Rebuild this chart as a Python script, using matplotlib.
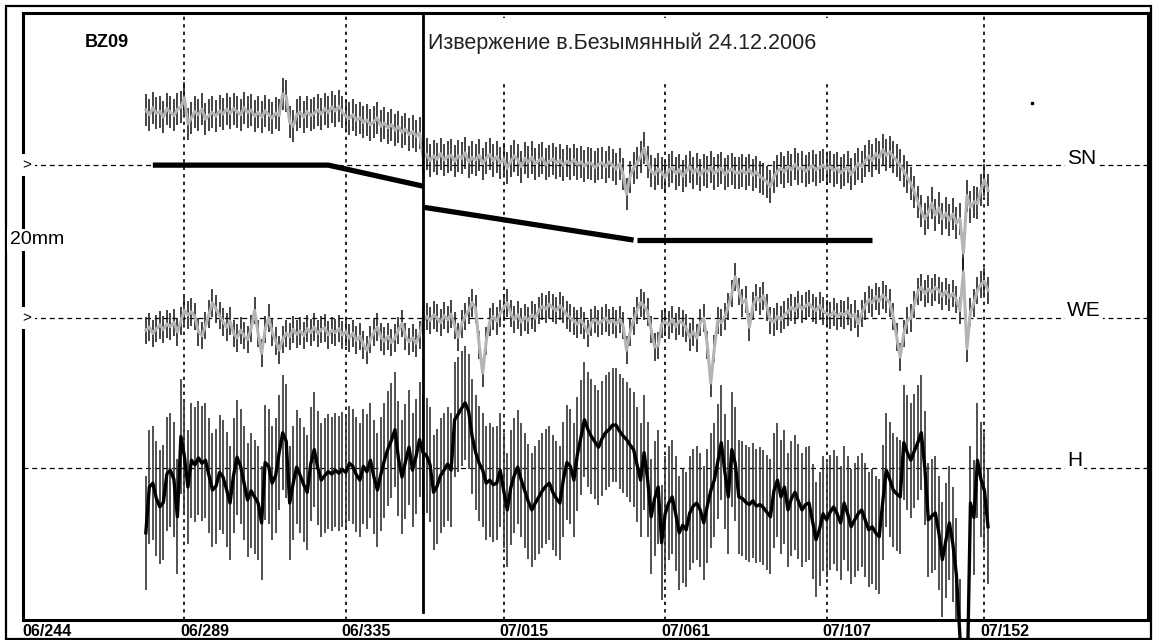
import numpy as np
import matplotlib
matplotlib.use("Agg")
import matplotlib.pyplot as plt
from matplotlib.patches import Rectangle
import matplotlib.transforms as mtransforms

plt.rcParams['font.family'] = ['Liberation Sans', 'DejaVu Sans']

# ---- data (mm, daily solutions of station BZ09) ----
first_day = 278                      # day number counted from 2006-01-01
station = "BZ09"
title = "Извержение в.Безымянный 24.12.2006"
eruption_day = 357

tick_days = [244, 289, 335, 380, 426, 472, 517]
tick_labels = ["06/244", "06/289", "06/335", "07/015", "07/061", "07/107", "07/152"]

sn = [7.2, 6.6, 7.5, 6.8, 7.0, 6.3, 7.4, 6.9, 6.5, 7.3,
      7.6, 8.8, 5.4, 6.2, 7.0, 6.6, 7.3, 6.0, 6.5, 6.9,
      6.4, 7.1, 6.7, 7.3, 6.8, 7.4, 7.0, 6.6, 7.5, 6.9,
      7.2, 6.4, 6.9, 6.3, 7.1, 6.6, 6.2, 6.8, 6.5, 9.3,
      9.0, 5.6, 5.1, 6.6, 6.9, 6.3, 7.0, 6.5, 6.8, 7.2,
      6.7, 7.4, 6.9, 7.6, 7.1, 7.7, 6.9, 6.4, 6.1, 6.6,
      5.9, 6.2, 5.6, 5.9, 5.3, 5.7, 6.2, 5.1, 5.5, 4.9,
      5.3, 4.6, 5.0, 4.3, 4.7, 4.0, 4.4, 3.8, 4.2,
      1.0, 1.4, 0.6, 1.2, 0.8, 1.5, 0.7, 1.1, 1.3, 0.5,
      1.2, 0.9, 1.6, 0.4, 1.0, 0.7, 1.3, 0.2, 0.9, 1.4,
      0.6, 1.1, 0.3, 0.8, -0.4, 0.5, 1.2, 0.7, -0.2, 0.9,
      0.4, 1.0, 0.2, 0.6, 0.9, 0.1, 0.5, 0.8, 0.3, 0.6,
      0.0, 0.5, 0.2, 0.7, 0.1, 0.4, -0.1, 0.3, 0.2, -0.3,
      0.1, 0.3, -0.2, 0.4, 0.0, -0.5, 0.2, -1.2, -3.8, -1.5,
      -0.4, 0.3, 1.1, 2.2, 0.4, -0.8, -1.2, -0.5, -1.0, -1.6,
      -0.7, -0.3, -1.1, -0.6, -1.4, -0.8, -0.2, -1.0, -0.5, -1.3,
      -0.6, -0.9, -0.3, -1.1, -0.7, -0.4, -1.2, -0.8, -0.5, -1.0,
      -1.0, -0.7, -1.1, -0.6, -1.3, -0.9, -1.5, -1.8, -2.2, -2.8,
      -1.5, -0.8, -0.4, -0.9, -0.2, -0.6, 0.1, -0.5, -0.3, -0.8,
      -0.4, -0.1, -0.6, -0.3, 0.0, -0.5, -0.2, -0.7, -0.4, -1.0,
      -0.6, -0.3, -1.2, -0.5, 0.2, -0.2, 0.5, 1.2, 0.6, 1.5,
      1.0, 2.0, 1.3, 1.7, 1.1, 0.6, 0.0, -0.8, -1.6, -2.4,
      -3.5, -4.8, -6.0, -7.0, -6.2, -5.0, -6.5, -5.6, -7.0, -6.3,
      -7.2, -6.4, -7.6, -7.0, -11.5, -4.0, -5.5, -4.8, -5.0, -3.2,
      -2.0, -3.3]

we = [-1.6, -1.2, -2.0, -1.4, -0.9, -1.5, -0.8, -1.1, -0.6, -1.8,
      -0.4, 1.0, 0.4, 0.8, 0.2, -1.8, -2.3, -1.0, 0.5, 2.0,
      1.2, 0.3, -0.5, -1.2, -0.4, -2.0, -2.6, -1.6, -2.3, -2.8,
      -1.4, 1.0, -2.0, -4.6, -1.5, 0.0, -1.8, -3.0, -4.2, -2.8,
      -2.0, -2.4, -1.5, -2.1, -1.7, -2.3, -1.4, -1.9, -1.2, -2.0,
      -1.5, -1.3, -2.2, -1.6, -1.9, -1.4, -2.2, -1.8, -2.6, -2.0,
      -2.9, -2.4, -3.5, -4.2, -2.8, -1.9, -1.2, -2.5, -3.0, -2.4,
      -3.2, -2.6, -1.6, -0.7, -2.4, -3.1, -2.6, -3.3, -2.2,
      -0.4, 0.2, -0.3, 0.4, 0.0, -0.6, 0.3, -0.2, 0.5, -1.0,
      -2.5, -0.8, 0.2, 1.0, 2.0, 1.2, -3.5, -7.2, -3.0, -0.5,
      0.2, -0.4, 0.6, 1.4, 2.0, 0.6, -0.2, 0.4, -0.5, 0.1,
      -0.3, 0.4, 0.0, 1.0, 1.5, 1.2, 1.8, 1.3, 1.0, 1.6,
      1.1, 0.4, 0.0, -0.4, -0.8, -0.3, -1.0, -2.0, -0.6, -0.2,
      -0.7, -0.4, 0.0, -0.6, -0.3, -0.8, -0.2, -1.0, -4.2, -1.8,
      -0.4, 1.0, 2.0, 1.6, 0.8, -1.5, -3.8, -3.6, -0.8, -0.5,
      -0.9, -0.2, -1.1, -0.4, -0.7, -1.3, -2.5, -1.8, -2.6, -0.6,
      0.0, -3.5, -8.5, -4.0, -0.3, -0.6, 0.2, 1.5, 3.2, 5.4,
      3.5, 2.0, 2.4, -1.2, 1.6, 2.7, 2.2, 2.9, 1.4, -0.3,
      -0.5, 0.2, -0.2, 0.4, 0.8, 1.4, 1.0, 1.8, 1.2, 1.6,
      1.9, 1.3, 1.0, 1.6, 0.9, 0.6, 0.3, 0.8, 0.2, 0.6,
      0.4, 0.9, 0.1, 0.5, -0.7, 0.6, 1.6, 2.4, 2.0, 2.8,
      2.2, 3.0, 2.5, 2.0, 0.2, -2.5, -5.1, -2.0, -0.3, 0.0,
      1.8, 3.5, 4.0, 3.2, 3.8, 3.4, 4.0, 3.6, 2.9, 3.5,
      2.7, 3.2, 2.4, 1.0, 6.0, -4.0, 0.8, 2.0, 3.6, 4.4,
      4.8, 3.6]

h = [-8.5, -2.5, -2.0, -4.0, -5.1, -4.5, -0.8, -0.3, -1.5, -6.4,
     4.1, 1.5, -2.5, 1.0, 0.4, 1.3, 0.6, 1.0, -1.0, -2.9,
     -2.4, -0.6, -1.2, -2.8, -4.6, -1.0, 1.4, 0.2, -2.0, -4.2,
     -3.0, -3.8, -4.6, -7.2, 0.7, 0.2, -2.0, -1.0, 2.0, 4.6,
     3.5, -4.6, -2.0, 0.1, -1.0, -2.2, -3.2, 0.5, 2.4, 0.0,
     -1.6, -1.0, -0.5, -0.8, -0.3, -0.7, -0.2, -0.6, 0.6, 0.2,
     -0.9, -1.6, 0.2, -0.5, 1.0, -1.2, -2.9, -0.8, 1.0, 2.5,
     3.6, 5.0, 1.2, -1.2, 0.8, 2.7, -0.3, 1.5, 3.7, 2.0,
     1.6, 0.4, -3.2, -2.4, -1.0, -0.3, 0.5, -0.3, 6.3, 7.0,
     7.8, 8.5, 7.4, 4.1, 2.0, 0.6, -0.3, -2.0, -1.6, -2.2,
     -2.0, -0.3, -3.0, -5.5, -2.6, -1.0, 0.1, -1.6, -3.0, -4.4,
     -5.5, -4.6, -3.8, -3.0, -2.4, -2.0, -3.2, -4.0, -4.6, -1.5,
     0.7, 0.2, -1.6, 1.8, 4.0, 6.3, 5.0, 4.1, 3.4, 2.7,
     3.8, 4.6, 5.0, 5.6, 5.6, 4.8, 4.2, 3.7, 3.0, 2.4,
     0.4, -1.6, 2.0, -1.5, -6.4, -4.0, -2.5, -9.8, -6.0, -4.6,
     -3.8, -6.0, -8.5, -7.5, -8.1, -5.9, -5.0, -4.6, -5.5, -7.2,
     -5.0, -3.0, -1.6, 0.8, 3.3, -0.5, -3.8, 2.4, 0.5, -3.8,
     -4.0, -4.5, -4.8, -4.3, -5.0, -4.8, -5.2, -5.8, -6.4, -3.0,
     -1.6, -3.8, -2.5, -5.5, -4.0, -3.2, -4.4, -5.5, -4.8, -4.6,
     -7.0, -9.4, -8.0, -6.0, -6.8, -5.8, -5.1, -6.0, -7.2, -4.6,
     -6.0, -7.7, -6.8, -6.0, -5.5, -6.8, -8.1, -7.7, -8.5, -9.0,
     -4.5, -0.3, -1.5, -2.9, -3.4, -3.8, 3.3, 2.0, 1.0, 2.2,
     3.3, 4.6, 0.0, -6.8, -6.3, -5.9, -8.5, -12.0, -9.5, -7.2,
     -10.0, -14.0, -22.0, -30.0, -30.0, -4.6, -6.5, 1.0, -1.5, -3.0,
     -7.7]

sn_err = 2.1
we_err = 1.8
h_err = 7.5

# SN model (thick black segments)
model_segments = [
    ([280, 330, 357], [0.0, 0.0, -2.75]),
    ([357, 417], [-5.5, -9.8]),
    ([418, 485], [-9.8, -9.8]),
]

stray_dot = (530.5, 8.1)

# component label, vertical offset of its zero line
components = ["SN", "WE", "H"]
offsets = [0.0, -20.0, -39.6]

days = np.arange(first_day, first_day + len(sn))
assert len(sn) == len(we) == len(h) == len(days)

# ---- plotting ----
W, H = 1154, 640
fig = plt.figure(figsize=(W / 100, H / 100), dpi=100)
ax = fig.add_axes([23 / W, 20 / H, 1125 / W, 607 / H])
ax.set_xlim(243, 563.6)
ax.set_ylim(-59.5, 19.9)

for sp in ax.spines.values():
    sp.set_linewidth(2.2)

# grid
for d in tick_days[1:]:
    ax.axvline(d, color="black", lw=1.2, ls=(0, (2, 2.5)), zorder=1)
for off in offsets:
    ax.axhline(off, color="black", lw=0.9, ls=(0, (4, 3)), zorder=1)

# white area behind the caption
ax.add_patch(Rectangle(((431 - 23) / 1125, (620 - 82) / 607),
                       (840 - 431) / 1125, (82 - 18) / 607,
                       transform=ax.transAxes, facecolor="white",
                       edgecolor="none", zorder=2))

# SN and WE: black error bars, grey line
for vals, err, off in [(sn, sn_err, offsets[0]), (we, we_err, offsets[1])]:
    y = np.array(vals) + off
    ax.errorbar(days, y, yerr=err, fmt="none", ecolor="#111111",
                elinewidth=1.1, capsize=0, zorder=3)
    ax.plot(days, y, color="#b4b4b4", lw=2.2, zorder=4)

# H: dark error bars, black line
yh = np.array(h) + offsets[2]
ax.errorbar(days, yh, yerr=h_err, fmt="none", ecolor="#333333",
            elinewidth=1.2, capsize=0, zorder=3)
ax.plot(days, yh, color="black", lw=2.4, zorder=4, clip_on=False)

# model segments
for xs, ys in model_segments:
    ax.plot(xs, ys, color="black", lw=3.8, solid_capstyle="butt", zorder=5)

# eruption line
ax.axvline(eruption_day, ymin=0.013, ymax=0.996, color="black", lw=2, zorder=6)

ax.plot(*stray_dot, marker="s", ms=1.5, color="black", zorder=6)

# texts
ax.text(0.055, 0.965, station, transform=ax.transAxes, fontsize=13,
        fontweight="bold", va="top", ha="left")
ax.text(0.36, 0.968, title, transform=ax.transAxes, fontsize=15.5,
        color="#222222", va="top", ha="left", zorder=7)
for name, off in zip(components, offsets):
    ax.text(540.5, off + 0.2, name, fontsize=15, va="baseline", ha="left",
            zorder=7, bbox=dict(facecolor="white", edgecolor="none", pad=1.5))

tr = mtransforms.blended_transform_factory(ax.transAxes, ax.transData)
for off in offsets[:2]:
    ax.text(-0.001, off, ">", transform=tr, fontsize=11, va="center",
            ha="left", clip_on=False, zorder=8,
            bbox=dict(facecolor="white", edgecolor="none", pad=3))
fig.text(10 / W, 1 - 240 / H, "20mm", fontsize=14, va="center", ha="left",
         bbox=dict(facecolor="white", edgecolor="none", pad=2))

ax.set_xticks(tick_days)
ax.set_xticklabels(tick_labels, fontsize=11.5, fontweight="bold", ha="left")
ax.tick_params(axis="x", length=0, pad=3)
shift = mtransforms.ScaledTranslation(-4 / 100, 0, fig.dpi_scale_trans)
for lab in ax.get_xticklabels():
    lab.set_transform(lab.get_transform() + shift)
ax.set_yticks([])

# outer frame
fig.patches.append(Rectangle((6 / W, 1 / H), (1151 - 6) / W, (634 - 1) / H,
                             transform=fig.transFigure, fill=False,
                             lw=1.6, edgecolor="black"))

fig.savefig("out.png", dpi=100)
